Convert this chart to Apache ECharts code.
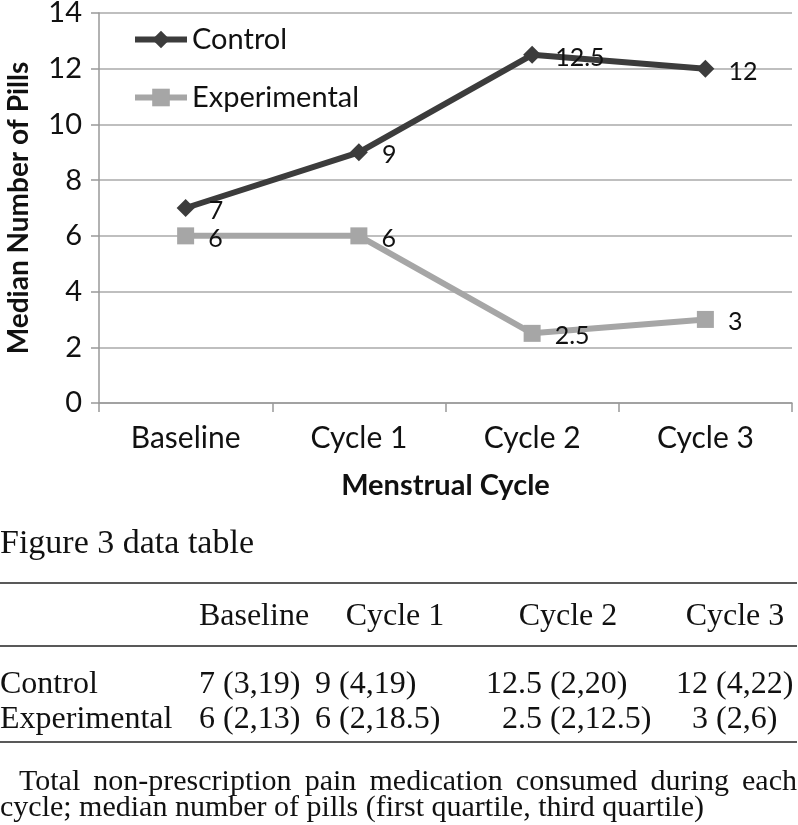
<!DOCTYPE html>
<html>
<head>
<meta charset="utf-8">
<script src="https://cdn.jsdelivr.net/npm/echarts@6/dist/echarts.min.js"></script>
<style>
html,body{margin:0;padding:0;background:#fff;}
#c{width:798px;height:825px;}
</style>
</head>
<body>
<div id="c"></div>
<script>
// ---- data ----
var categories = ['Baseline', 'Cycle 1', 'Cycle 2', 'Cycle 3'];
var controlMedian = [7, 9, 12.5, 12];
var experimentalMedian = [6, 6, 2.5, 3];
var controlQ1 = [3, 4, 2, 4];
var controlQ3 = [19, 19, 20, 22];
var experimentalQ1 = [2, 2, 2, 2];
var experimentalQ3 = [13, 18.5, 12.5, 6];
var seriesNames = ['Control', 'Experimental'];
var yTicks = [0, 2, 4, 6, 8, 10, 12, 14];
var yAxisTitle = 'Median Number of Pills';
var xAxisTitle = 'Menstrual Cycle';
var tableTitle = 'Figure 3 data table';
var captionLine1 = 'Total non-prescription pain medication consumed during each';
var captionLine2 = 'cycle; median number of pills (first quartile, third quartile)';

// ---- layout ----
var chartFont = 'Lato';
var serif = '"Liberation Serif", "Times New Roman", serif';
var headerCenters = [254, 395, 568, 735];
var medianAnchors = [215, 331, 542, 708];
var rowY = [685, 720];
var headerY = 617;
var ruleY = [583, 646, 742];

var chart = echarts.init(document.getElementById('c'), null, {renderer: 'canvas'});

var graphics = [];
graphics.push({type: 'text', left: 0, top: 545 - 18, style: {text: tableTitle, font: '34px ' + serif, fill: '#111'}});
ruleY.forEach(function (y) {
  graphics.push({type: 'line', shape: {x1: 0, y1: y, x2: 797, y2: y}, style: {stroke: '#222', lineWidth: 1.5}});
});
categories.forEach(function (c, i) {
  graphics.push({type: 'text', x: headerCenters[i], y: headerY, style: {text: c, font: '32px ' + serif, fill: '#111', textAlign: 'center', textVerticalAlign: 'middle'}});
});
var rows = [
  {name: seriesNames[0], med: controlMedian, q1: controlQ1, q3: controlQ3},
  {name: seriesNames[1], med: experimentalMedian, q1: experimentalQ1, q3: experimentalQ3}
];
rows.forEach(function (r, ri) {
  graphics.push({type: 'text', x: 0, y: rowY[ri], style: {text: r.name, font: '32px ' + serif, fill: '#111', textAlign: 'left', textVerticalAlign: 'middle'}});
  r.med.forEach(function (m, ci) {
    graphics.push({type: 'text', x: medianAnchors[ci], y: rowY[ri], style: {text: String(m), font: '32px ' + serif, fill: '#111', textAlign: 'right', textVerticalAlign: 'middle'}});
    graphics.push({type: 'text', x: medianAnchors[ci], y: rowY[ri], style: {text: ' (' + r.q1[ci] + ',' + r.q3[ci] + ')', font: '32px ' + serif, fill: '#111', textAlign: 'left', textVerticalAlign: 'middle'}});
  });
});

// justified caption line 1
var capFont = '30px ' + serif;
var ctx = document.createElement('canvas').getContext('2d');
ctx.font = capFont;
var words = captionLine1.split(' ');
var startX = 19, endX = 797;
var total = 0;
words.forEach(function (w) { total += ctx.measureText(w).width; });
var gap = (endX - startX - total) / (words.length - 1);
var cx = startX;
words.forEach(function (w) {
  graphics.push({type: 'text', x: cx, y: 782, style: {text: w, font: capFont, fill: '#111', textAlign: 'left', textVerticalAlign: 'middle'}});
  cx += ctx.measureText(w).width + gap;
});
graphics.push({type: 'text', x: 0, y: 808, style: {text: captionLine2, font: capFont, fill: '#111', textAlign: 'left', textVerticalAlign: 'middle'}});

var option = {
  backgroundColor: '#fff',
  animation: false,
  textStyle: {fontFamily: chartFont},
  grid: {left: 99, right: 6, top: 13, bottom: 422, containLabel: false, outerBoundsMode: 'none'},
  legend: {
    orient: 'vertical', left: 132, top: 25, padding: 0, itemWidth: 52, itemHeight: 22, itemGap: 29,
    data: seriesNames,
    lineStyle: {width: 6},
    textStyle: {fontFamily: chartFont, fontSize: 29, color: '#111', padding: [0, 0, 0, 0]}
  },
  xAxis: {
    type: 'category', data: categories, boundaryGap: true,
    axisLine: {lineStyle: {color: '#999', width: 1.5}},
    axisTick: {show: true, length: 9, lineStyle: {color: '#999', width: 1.5}},
    axisLabel: {fontFamily: chartFont, fontSize: 30, color: '#111', margin: 20},
    name: xAxisTitle, nameLocation: 'middle', nameGap: 68,
    nameTextStyle: {fontFamily: chartFont, fontSize: 29, fontWeight: 'bold', color: '#111'}
  },
  yAxis: {
    type: 'value', min: 0, max: 14, interval: 2,
    axisLine: {show: true, lineStyle: {color: '#999', width: 1.5}},
    axisTick: {show: true, length: 8, lineStyle: {color: '#999', width: 1.5}},
    axisLabel: {fontFamily: chartFont, fontSize: 29, color: '#111', margin: 17,
      formatter: function (v) { return yTicks.indexOf(v) >= 0 ? String(v) : ''; }},
    splitLine: {lineStyle: {color: '#aaa', width: 1.5}},
    name: yAxisTitle, nameLocation: 'middle', nameGap: 66, nameRotate: 90,
    nameTextStyle: {fontFamily: chartFont, fontSize: 28, fontWeight: 'bold', color: '#111'}
  },
  series: [
    {
      name: seriesNames[0], type: 'line', data: controlMedian,
      symbol: 'diamond', symbolSize: 18,
      itemStyle: {color: '#3c3c3c'},
      lineStyle: {color: '#3c3c3c', width: 6},
      label: {show: true, position: 'right', distance: 14, offset: [0, 3], fontFamily: chartFont, fontSize: 25, color: '#111'}
    },
    {
      name: seriesNames[1], type: 'line', data: experimentalMedian,
      symbol: 'rect', symbolSize: 17,
      itemStyle: {color: '#a6a6a6'},
      lineStyle: {color: '#a6a6a6', width: 6},
      label: {show: true, position: 'right', distance: 14, offset: [0, 3], fontFamily: chartFont, fontSize: 25, color: '#111'}
    }
  ],
  graphic: graphics
};
chart.setOption(option);
</script>
</body>
</html>
